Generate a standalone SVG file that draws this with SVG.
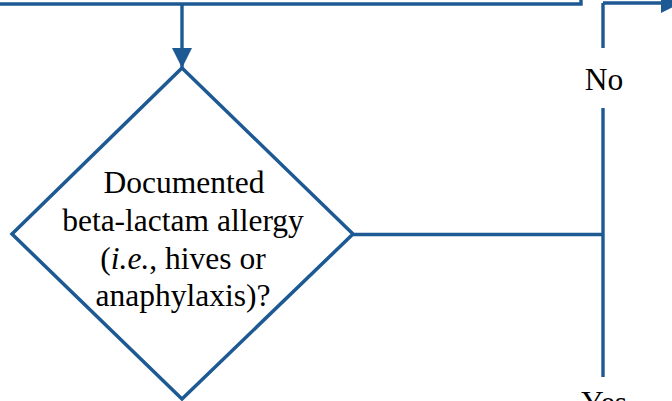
<svg xmlns="http://www.w3.org/2000/svg" width="672" height="401" viewBox="0 0 672 401">
  <style>
    .ln { fill: none; stroke: #1d5993; stroke-width: 3.4; }
    .shape { fill: #ffffff; stroke: #1d5993; stroke-width: 3.5; stroke-linejoin: miter; }
    .txt { font-family: "Liberation Serif", "Times New Roman", serif; font-size: 31.5px; fill: #000000; text-anchor: middle; }
  </style>
  <defs>
    <marker id="arrow" markerUnits="userSpaceOnUse" markerWidth="22" markerHeight="22" refX="20" refY="10" orient="auto">
      <path d="M0,0 L20,10 L0,20 Z" fill="#1d5993"/>
    </marker>
  </defs>

  <g id="connectors">
    <polyline class="ln" points="0,4 581,4 581,-2"/>
    <line class="ln" x1="182" y1="4" x2="182" y2="68" marker-end="url(#arrow)"/>
    <line class="ln" x1="353" y1="234.5" x2="603" y2="234.5"/>
    <line class="ln" x1="603" y1="48" x2="603" y2="3"/>
    <line class="ln" x1="603" y1="3" x2="681" y2="3" marker-end="url(#arrow)"/>
    <line class="ln" x1="603" y1="108" x2="603" y2="377"/>
  </g>

  <g id="decision-allergy">
    <polygon class="shape" points="182,68 353,234 182,399 12,234"/>
    <text class="txt" x="184" y="193">Documented</text>
    <text class="txt" x="183" y="231">beta-lactam allergy</text>
    <text class="txt" x="183" y="269">(<tspan font-style="italic">i.e.</tspan>, hives or</text>
    <text class="txt" x="183" y="306">anaphylaxis)?</text>
  </g>

  <g id="label-no">
    <text class="txt" x="604" y="90">No</text>
  </g>

  <g id="label-yes">
    <text class="txt" x="604" y="413">Yes</text>
  </g>
</svg>
